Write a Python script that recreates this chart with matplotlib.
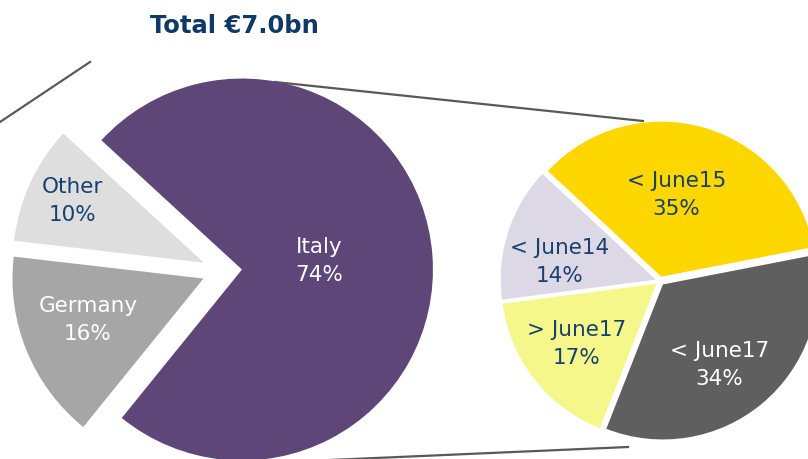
import matplotlib.pyplot as plt
import numpy as np

# Breakdown of the total
regions = ['Italy', 'Other', 'Germany']
region_share = [74, 10, 16]
region_colors = ['#5E4778', '#DEDEDE', '#A6A6A6']
region_text = ['white', '#17406F', 'white']
region_label_dist = [0.41, 0.76, 0.64]
region_label_turn = [3, -1, -3]

# Italy split by maturity
buckets = ['< June15', '< June14', '> June17', '< June17']
bucket_share = [35, 14, 17, 34]
bucket_colors = ['#FED600', '#DDD8E6', '#F5F78A', '#5F5F5F']
bucket_text = ['#17406F', '#17406F', '#17406F', 'white']
bucket_label_dist = [0.54, 0.63, 0.64, 0.63]
bucket_label_turn = [5.5, 7, -1.5, -4.5]

title = 'Total €7.0bn'

fig = plt.figure(figsize=(8.08, 4.6), dpi=100)
ax = fig.add_axes([0, 0, 1, 1])


def draw_pie(values, colors, text_colors, dists, turns, labels, center,
             radius, start, gap):
    # explode is in data units (pixels here)
    wedges, _ = ax.pie(values, colors=colors, startangle=start,
                       counterclock=True, center=center, radius=radius,
                       explode=[gap] * len(values),
                       wedgeprops=dict(linewidth=0), frame=True)
    for w, lab, val, tc, d, t in zip(wedges, labels, values, text_colors,
                                     dists, turns):
        mid = np.deg2rad((w.theta1 + w.theta2) / 2 + t)
        cx, cy = w.center
        x = cx + d * w.r * np.cos(mid)
        y = cy + d * w.r * np.sin(mid)
        ax.text(x, y, f'{lab}\n{val}%', ha='center', va='center',
                color=tc, fontsize=15.5, linespacing=1.5)
    return wedges


draw_pie(region_share, region_colors, region_text, region_label_dist,
         region_label_turn, regions, (222, 188), 191, 231, 20)
draw_pie(bucket_share, bucket_colors, bucket_text, bucket_label_dist,
         bucket_label_turn, buckets, (660, 178), 155, 11, 4.5)

ax.set_xlim(0, 808)
ax.set_ylim(0, 460)
ax.set_aspect('equal')
ax.axis('off')

# connector lines
line_color = '#595959'
ax.plot([275, 643], [377, 338], color=line_color, lw=1.6, zorder=0)
ax.plot([330, 628], [-1, 12], color=line_color, lw=1.6, zorder=0)
ax.plot([0, 90], [337, 397], color=line_color, lw=1.6, zorder=0)

ax.text(234, 434, title, ha='center', va='center', fontsize=17.5,
        fontweight='bold', color='#0F3A68')

fig.savefig('out.png', dpi=100)
